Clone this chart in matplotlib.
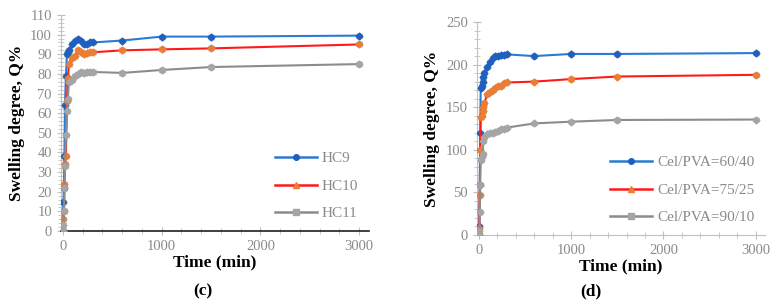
import matplotlib
matplotlib.use("Agg")
import matplotlib.pyplot as plt
from matplotlib.lines import Line2D
from matplotlib.ticker import MultipleLocator

plt.rcParams['font.family'] = ['Liberation Serif', 'DejaVu Serif']

# panel (c)
times_c = [0, 5, 10, 15, 20, 30, 40, 50, 60, 90, 120, 150, 180, 210, 240, 270, 300, 600, 1000, 1500, 3000]
hc9 = [0, 15, 22, 38, 64, 79, 90, 91, 92, 95, 97, 98, 97, 95, 95, 96, 96, 97, 99, 99, 99.5]
hc10 = [0, 6, 10, 24, 34, 38, 66, 78, 85, 88, 89, 92, 91, 90, 90.5, 91, 91, 92, 92.5, 93, 95]
hc11 = [0, 3, 10, 22, 33, 49, 61, 67, 76, 77, 79, 80, 81, 80.5, 81, 81, 81, 80.5, 82, 83.5, 85]
labels_c = ['HC9', 'HC10', 'HC11']

# panel (d)
times_d = [0, 5, 10, 15, 20, 30, 40, 50, 60, 90, 120, 150, 180, 210, 240, 270, 300, 600, 1000, 1500, 3000]
cel60 = [0, 10, 59, 120, 172, 175, 180, 185, 190, 197, 203, 208, 210, 210, 211, 211, 212, 210, 212.5, 212.5, 213.5]
cel75 = [0, 8, 47, 100, 138, 140, 145, 150, 155, 165, 168, 170, 173, 175, 175, 178, 179, 180, 183, 186, 188]
cel90 = [0, 5, 27, 59, 88, 92, 95, 110, 115, 118, 120, 120, 121, 122, 124, 125, 126, 131, 133, 135, 135.5]
labels_d = ['Cel/PVA=60/40', 'Cel/PVA=75/25', 'Cel/PVA=90/10']

line_cols = ['#2a7bd1', '#ff1a1a', '#8c8c8c']
mark_cols = ['#1f5fbf', '#ed7d31', '#a5a5a5']
leg_marks = ['o', '^', 's']
tick_col = '#8a8a8a'

fig = plt.figure(figsize=(7.76, 3.06), dpi=100)
ax1 = fig.add_axes([61/776, 1-231/306, (369-61)/776, (231-15)/306])
ax2 = fig.add_axes([477/776, 1-235/306, (765-477)/776, (235-22)/306])


def draw(ax, t, series, labels, err, ymax, ymaj, ymin):
    handles = []
    for s, lab, lc, mc, lm in zip(series, labels, line_cols, mark_cols, leg_marks):
        ax.errorbar(t, s, yerr=err, color=lc, ecolor=tick_col, elinewidth=0.8,
                    capsize=2, lw=1.5, marker='D', ms=3.5, mfc=mc, mec=mc,
                    zorder=3)
        handles.append(Line2D([], [], color=lc, lw=1.8, marker=lm, ms=4,
                              mfc=mc, mec=mc, label=lab))
    ax.set_xlim(-20, 3100)
    ax.set_ylim(0, ymax)
    ax.xaxis.set_major_locator(MultipleLocator(1000))
    ax.xaxis.set_minor_locator(MultipleLocator(200))
    ax.yaxis.set_major_locator(MultipleLocator(ymaj))
    ax.yaxis.set_minor_locator(MultipleLocator(ymin))
    for sp in ['top', 'right']:
        ax.spines[sp].set_visible(False)
    ax.spines['left'].set_color('#bfbfbf')
    ax.tick_params(which='both', direction='inout', colors='#bfbfbf',
                   labelcolor=tick_col, labelsize=10.5)
    ax.tick_params(which='major', length=6)
    ax.tick_params(which='minor', length=4)
    ax.set_ylabel('Swelling degree, Q%', fontsize=12.5, fontweight='bold')
    ax.set_xlabel('Time (min)', fontsize=12.5, fontweight='bold', labelpad=1)
    ax.legend(handles=handles, loc='lower right', frameon=False, fontsize=11,
              labelcolor=tick_col, handlelength=2.8, handletextpad=0.3,
              labelspacing=0.9, borderaxespad=0.3)


draw(ax1, times_c, [hc9, hc10, hc11], labels_c, 1.0, 110, 10, 2)
draw(ax2, times_d, [cel60, cel75, cel90], labels_d, 2.0, 250, 50, 10)
ax1.spines['bottom'].set_color('#202020')
ax1.spines['bottom'].set_linewidth(1.2)
ax2.spines['bottom'].set_color('#bfbfbf')

fig.text(203/776, 1-291/306, '(c)', ha='center', va='center', fontsize=12.5, fontweight='bold')
fig.text(591/776, 1-291/306, '(d)', ha='center', va='center', fontsize=12.5, fontweight='bold')

fig.savefig('out.png', dpi=100)
